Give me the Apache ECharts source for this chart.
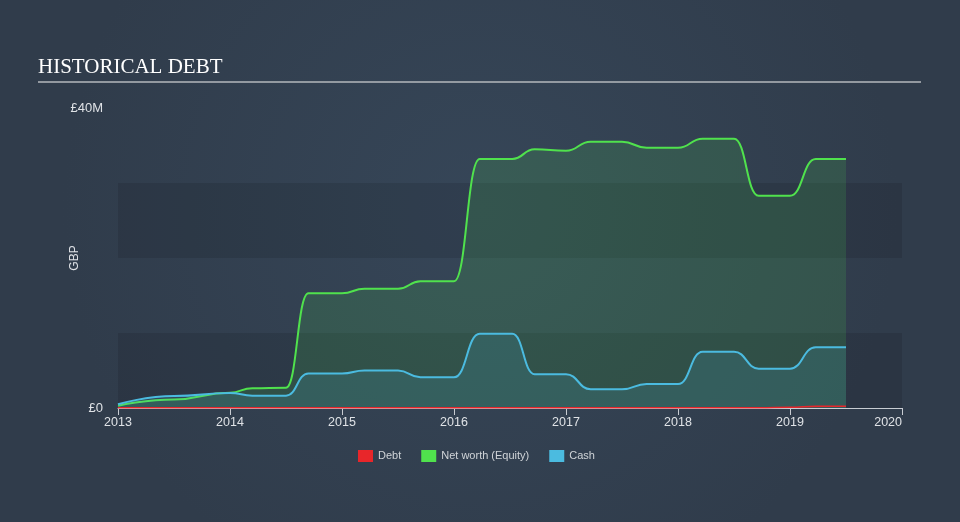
<!DOCTYPE html>
<html>
<head>
<meta charset="utf-8">
<script src="https://cdn.jsdelivr.net/npm/echarts@6/dist/echarts.min.js"></script>
<style>
html,body{margin:0;padding:0;width:960px;height:522px;overflow:hidden;}
#c{width:960px;height:522px;}
</style>
</head>
<body>
<div id="c"></div>
<script>
// decimal years
var years = [2013.0, 2013.5, 2014.0, 2014.2, 2014.5, 2014.7, 2015.0, 2015.2, 2015.5, 2015.7, 2016.0, 2016.23, 2016.52, 2016.72, 2017.0, 2017.22, 2017.5, 2017.72, 2018.0, 2018.22, 2018.5, 2018.72, 2019.0, 2019.23, 2019.5];
// values in GBP millions
var debt = [0.05, 0.05, 0.05, 0.05, 0.05, 0.05, 0.05, 0.05, 0.05, 0.05, 0.05, 0.05, 0.05, 0.05, 0.05, 0.05, 0.05, 0.05, 0.05, 0.05, 0.05, 0.05, 0.1, 0.25, 0.25];
var netWorth = [0.3, 1.15, 2.05, 2.65, 2.7, 15.3, 15.3, 15.9, 15.9, 16.9, 16.9, 33.2, 33.2, 34.5, 34.3, 35.5, 35.5, 34.7, 34.7, 35.9, 35.9, 28.3, 28.3, 33.2, 33.2];
var cash = [0.5, 1.6, 2.0, 1.65, 1.65, 4.6, 4.6, 5.0, 5.0, 4.1, 4.1, 9.9, 9.9, 4.5, 4.5, 2.5, 2.5, 3.2, 3.2, 7.5, 7.5, 5.25, 5.25, 8.1, 8.1];
var yTickLabels = {0: '£0', 40: '£40M'};

function pairs(vals){ return years.map(function(y,i){ return [y, vals[i]]; }); }

var chart = echarts.init(document.getElementById('c'));
var sans = 'Liberation Sans, Arial, sans-serif';
var option = {
  backgroundColor: {
    type: 'radial', x: 0.5, y: 0.4, r: 0.8,
    colorStops: [{offset: 0, color: '#364658'}, {offset: 1, color: '#303c4b'}]
  },
  title: {
    text: 'HISTORICAL DEBT', left: 33, top: 52,
    textStyle: {fontFamily: 'Liberation Serif, Times New Roman, serif', fontSize: 21, fontWeight: 'normal', color: '#ffffff'}
  },
  graphic: [{
    type: 'line', shape: {x1: 38, y1: 82, x2: 921, y2: 82},
    style: {stroke: '#b4b8bd', lineWidth: 1.5}
  }],
  legend: {
    left: 353, top: 445, itemWidth: 15, itemHeight: 12, itemGap: 20,
    icon: 'rect',
    textStyle: {color: '#d0d4d8', fontSize: 11, fontFamily: sans},
    data: ['Debt', 'Net worth (Equity)', 'Cash']
  },
  grid: {left: 118, right: 58, top: 108, bottom: 114},
  xAxis: {
    type: 'value', min: 2013, max: 2020, interval: 1,
    axisLine: {lineStyle: {color: '#c8ccd2', width: 1}},
    axisTick: {show: true, length: 7, lineStyle: {color: '#c8ccd2'}},
    axisLabel: {color: '#dfe2e6', fontSize: 12.5, fontFamily: sans, margin: 8, alignMaxLabel: 'right',
      formatter: function(v){ return String(v); }},
    splitLine: {show: false}
  },
  yAxis: {
    type: 'value', min: 0, max: 40, interval: 10,
    name: 'GBP', nameLocation: 'middle', nameRotate: 90, nameGap: 37, nameMoveOverlap: false,
    nameTextStyle: {color: '#dfe2e6', fontSize: 12, fontFamily: sans},
    axisLine: {show: false}, axisTick: {show: false},
    axisLabel: {color: '#dfe2e6', fontSize: 13, fontFamily: sans, margin: 15,
      formatter: function(v){ return yTickLabels[v] !== undefined ? yTickLabels[v] : ''; }},
    splitLine: {show: false},
    splitArea: {show: true, areaStyle: {color: ['rgba(0,0,0,0.1)', 'rgba(0,0,0,0)']}}
  },
  series: [
    {
      name: 'Net worth (Equity)', type: 'line', data: pairs(netWorth),
      showSymbol: false, smooth: 0.5, smoothMonotone: 'x',
      lineStyle: {color: '#50e24d', width: 2}, itemStyle: {color: '#50e24d'},
      areaStyle: {color: 'rgba(80,226,77,0.2)'}, z: 2
    },
    {
      name: 'Cash', type: 'line', data: pairs(cash),
      showSymbol: false, smooth: 0.5, smoothMonotone: 'x',
      lineStyle: {color: '#4bbbe0', width: 2}, itemStyle: {color: '#4bbbe0'},
      areaStyle: {color: 'rgba(75,187,224,0.2)'}, z: 3
    },
    {
      name: 'Debt', type: 'line', data: pairs(debt),
      showSymbol: false, smooth: 0.5, smoothMonotone: 'x',
      lineStyle: {color: '#e8262a', width: 1.5}, itemStyle: {color: '#e8262a'},
      areaStyle: {color: 'rgba(232,38,42,0.2)'}, z: 4
    }
  ],
  animation: false
};
chart.setOption(option);
</script>
</body>
</html>
